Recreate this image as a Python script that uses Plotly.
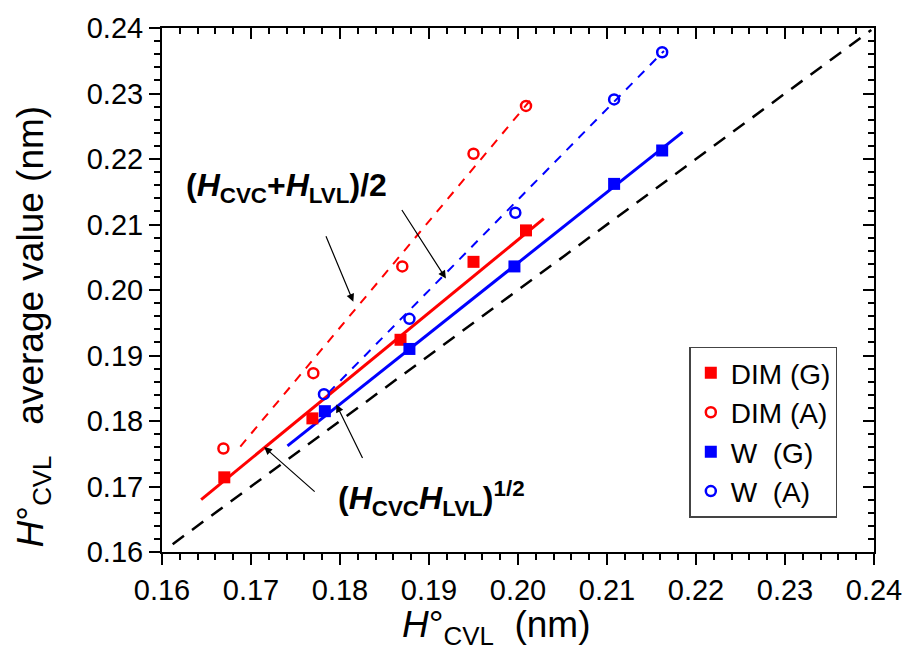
import plotly.graph_objects as go

# ---- data ----
dim_g_x = [0.1670, 0.1769, 0.1868, 0.1950, 0.2009]
dim_g_y = [0.1714, 0.1804, 0.1924, 0.2043, 0.2091]
dim_a_x = [0.1669, 0.1770, 0.1870, 0.1950, 0.2009]
dim_a_y = [0.1758, 0.1873, 0.2036, 0.2208, 0.2281]
w_g_x = [0.1783, 0.1878, 0.1996, 0.2108, 0.2162]
w_g_y = [0.1815, 0.1910, 0.2036, 0.2162, 0.2213]
w_a_x = [0.1782, 0.1878, 0.1997, 0.2108, 0.2162]
w_a_y = [0.1841, 0.1956, 0.2118, 0.2291, 0.2363]

# fitted lines (end points)
dim_g_fit_x = [0.1644, 0.2029]
dim_g_fit_y = [0.1680, 0.2109]
w_g_fit_x = [0.1741, 0.2185]
w_g_fit_y = [0.1762, 0.2241]
dim_a_fit_x = [0.1688, 0.2014]
dim_a_fit_y = [0.1761, 0.2290]
w_a_fit_x = [0.1787, 0.2164]
w_a_fit_y = [0.1843, 0.2365]
diag_x = [0.1612, 0.2397]
diag_y = [0.1612, 0.2397]

# arrow heads (data coords)
arrow_x = [0.18150, 0.19190, 0.17148, 0.17958]
arrow_y = [0.19820, 0.20175, 0.17603, 0.18252]

x_range = [0.16, 0.24]
y_range = [0.16, 0.24]

RED = "#FF0000"
BLUE = "#0000FF"
FONT = "Arial, Liberation Sans, sans-serif"

W, H = 914, 666
ML, MR, MT, MB = 162, 34, 18, 114
PW, PH = W - ML - MR, H - MT - MB


def px2paper(px, py):
    return (px - ML) / PW, (H - MB - py) / PH


fig = go.Figure()

# lines
fig.add_trace(go.Scatter(x=diag_x, y=diag_y, mode="lines", showlegend=False,
                         line=dict(color="black", width=2.5, dash="14px,10px")))
fig.add_trace(go.Scatter(x=dim_a_fit_x, y=dim_a_fit_y, mode="lines", showlegend=False,
                         line=dict(color=RED, width=2, dash="9px,8px")))
fig.add_trace(go.Scatter(x=w_a_fit_x, y=w_a_fit_y, mode="lines", showlegend=False,
                         line=dict(color=BLUE, width=2, dash="9px,8px")))
fig.add_trace(go.Scatter(x=dim_g_fit_x, y=dim_g_fit_y, mode="lines", showlegend=False,
                         line=dict(color=RED, width=3)))
fig.add_trace(go.Scatter(x=w_g_fit_x, y=w_g_fit_y, mode="lines", showlegend=False,
                         line=dict(color=BLUE, width=3)))

# markers
fig.add_trace(go.Scatter(x=dim_g_x, y=dim_g_y, mode="markers", name="DIM (G)",
                         marker=dict(symbol="square", size=12, color=RED)))
fig.add_trace(go.Scatter(x=dim_a_x, y=dim_a_y, mode="markers", name="DIM (A)",
                         marker=dict(symbol="circle-open", size=10, color=RED,
                                     line=dict(width=2.5, color=RED))))
fig.add_trace(go.Scatter(x=w_g_x, y=w_g_y, mode="markers", name="W\u00a0\u00a0(G)",
                         marker=dict(symbol="square", size=12, color=BLUE)))
fig.add_trace(go.Scatter(x=w_a_x, y=w_a_y, mode="markers", name="W\u00a0\u00a0(A)",
                         marker=dict(symbol="circle-open", size=10, color=BLUE,
                                     line=dict(width=2.5, color=BLUE))))

# invisible trace for mirrored axes
fig.add_trace(go.Scatter(x=x_range, y=y_range, xaxis="x2", yaxis="y2", mode="markers",
                         marker=dict(opacity=0), showlegend=False, hoverinfo="skip"))

axis_common = dict(range=x_range, dtick=0.01, showgrid=False, zeroline=False,
                   showline=True, linewidth=2, linecolor="black",
                   tickwidth=2, tickcolor="black")

fig.update_layout(
    width=W, height=H,
    margin=dict(l=ML, r=MR, t=MT, b=MB),
    plot_bgcolor="white", paper_bgcolor="white",
    font=dict(family=FONT, color="black", size=29),
    xaxis=dict(**axis_common, ticks="outside", ticklen=11, tickformat=".2f",
               tickfont=dict(size=29, family=FONT),
               minor=dict(dtick=0.002, ticks="outside", ticklen=6, tickwidth=2, tickcolor="black")),
    yaxis=dict(**{**axis_common, "range": y_range}, ticks="outside", ticklen=11, tickformat=".2f",
               tickfont=dict(size=29, family=FONT),
               minor=dict(dtick=0.002, ticks="outside", ticklen=6, tickwidth=2, tickcolor="black")),
    xaxis2=dict(**axis_common, overlaying="x", side="top", ticks="inside", ticklen=11,
                showticklabels=False,
                minor=dict(dtick=0.002, ticks="inside", ticklen=6, tickwidth=2, tickcolor="black")),
    yaxis2=dict(**{**axis_common, "range": y_range}, overlaying="y", side="right", ticks="inside",
                ticklen=11, showticklabels=False,
                minor=dict(dtick=0.002, ticks="inside", ticklen=6, tickwidth=2, tickcolor="black")),
    legend=dict(x=px2paper(843, 0)[0], y=px2paper(0, 517)[1], xanchor="right", yanchor="bottom",
                bordercolor="#444444", borderwidth=1.5, bgcolor="white",
                font=dict(size=28, family=FONT), itemwidth=30, tracegroupgap=0),
)

annotations = []
# arrows
tails = [(-28, -67), (-45, -70), (52, 46), (27, 55)]
for xa, ya, (ax, ay) in zip(arrow_x, arrow_y, tails):
    annotations.append(dict(x=xa, y=ya, xref="x", yref="y", text="", showarrow=True,
                            ax=ax, ay=ay, arrowhead=2, arrowsize=1.3, arrowwidth=1.2,
                            arrowcolor="black"))

# labels
tx, ty = px2paper(288, 181)
annotations.append(dict(x=tx, y=ty, xref="paper", yref="paper", showarrow=False,
                        text="<b>(<i>H</i><sub>CVC</sub>+<i>H</i><sub>LVL</sub>)/2</b>",
                        font=dict(size=32, family=FONT), xanchor="center", yanchor="middle"))
tx, ty = px2paper(434, 497)
annotations.append(dict(x=tx, y=ty, xref="paper", yref="paper", showarrow=False,
                        text="<b>(<i>H</i><sub>CVC</sub><i>H</i><sub>LVL</sub>)<sup>1/2</sup></b>",
                        font=dict(size=32, family=FONT), xanchor="center", yanchor="middle"))
# axis titles
tx, ty = px2paper(499, 628)
annotations.append(dict(x=tx, y=ty, xref="paper", yref="paper", showarrow=False,
                        text="<i>H</i>°<sub>CVL</sub>\u00a0\u00a0(nm)",
                        font=dict(size=37, family=FONT), xanchor="center", yanchor="middle"))
tx, ty = px2paper(32, 322)
annotations.append(dict(x=tx, y=ty, xref="paper", yref="paper", showarrow=False,
                        text="<i>H</i>°<sub>CVL</sub>\u00a0\u00a0\u00a0average value (nm)",
                        font=dict(size=37, family=FONT), textangle=-90,
                        xanchor="center", yanchor="middle"))

fig.update_layout(annotations=annotations)

fig.write_html("out.html")
